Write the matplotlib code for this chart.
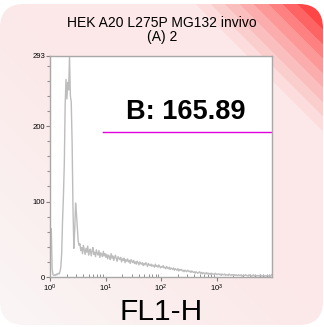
import numpy as np
import matplotlib
matplotlib.use("Agg")
import matplotlib.pyplot as plt
from matplotlib.patches import FancyBboxPatch
from matplotlib.ticker import FixedLocator, NullFormatter, LogLocator

plt.rcParams['font.family'] = ['Liberation Sans', 'DejaVu Sans']
plt.rcParams['mathtext.default'] = 'regular'

# ---------------- data ----------------
title_line1 = "HEK A20 L275P MG132 invivo"
title_line2 = "(A) 2"
x_label = "FL1-H"
gate_label = "B: 165.89"
gate_x = [9.0, 10000.0]
gate_y = 192
y_major_ticks = [0, 100, 200, 293]
x_major_ticks = [1, 10, 100, 1000]
x_tick_labels = ["$10^{0}$", "$10^{1}$", "$10^{2}$", "$10^{3}$"]
channels_per_decade = 64
counts = [
    58, 64, 10, 3,
    2, 3, 2, 4, 3, 5, 4, 7,
    13, 32, 76, 108, 150, 230, 262, 236, 258, 248, 293, 240, 232, 178, 92, 38, 62, 98, 84, 66, 48, 42,
    44, 35, 39, 31, 42, 36, 30, 38, 33, 41, 29, 35, 37, 28, 34, 39, 30, 33, 27, 36, 31, 29, 35, 26, 32, 30, 27, 34, 28, 31,
    26, 30, 24, 29, 27, 23, 31, 25, 28, 22, 26, 29, 24, 21, 27, 25, 23, 26, 20, 24, 22, 25, 19, 23, 21, 24, 20, 22, 18, 23, 21, 19,
    22, 18, 20, 17, 21, 19, 16, 20, 18, 17, 19, 15, 18, 16, 19, 17, 14, 18, 16, 15, 17, 14, 16, 15, 13, 17, 14, 15, 13, 16, 14, 12,
    14, 13, 15, 12, 13, 11, 14, 12, 11, 13, 10, 12, 11, 10, 12, 9, 11, 10, 9, 11, 8, 10, 9, 10, 8, 9, 7, 9, 8, 7, 9, 8,
    7, 8, 6, 8, 7, 6, 7, 5, 7, 6, 5, 6, 7, 5, 6, 4, 6, 5, 5, 4, 6, 4, 5, 4, 5, 3, 5, 4, 4, 3, 5, 4,
    3, 4, 4, 3, 4, 2, 4, 3, 3, 4, 2, 3, 3, 2, 4, 3, 2, 3, 3, 2, 3, 2, 3, 2, 2, 3, 2, 2, 3, 1, 2, 2,
    2, 3, 2, 2, 1, 3, 2, 2, 1, 2, 3, 1, 2, 2, 1, 2, 2, 1, 3, 2, 1, 2, 2, 1, 2, 1, 2, 2, 1, 2, 1, 3,
]

W, H = 324, 327
fig = plt.figure(figsize=(W / 100, H / 100), dpi=100)
fig.patch.set_facecolor('white')

# ---------------- decorative background ----------------
bg = fig.add_axes([0, 0, 1, 1], zorder=-5)
bg.set_xlim(0, W)
bg.set_ylim(H, 0)
bg.axis('off')
yy, xx = np.mgrid[0:H, 0:W]
t = (xx - yy).astype(float)
img = np.zeros((H, W, 3))
pale = np.array([250, 246, 246]) / 255
pink = np.array([252, 232, 232]) / 255
f = np.clip((t + 330) / 330, 0, 1)[..., None]
img[:] = pale * (1 - f) + pink * f
bands = np.array([
    (252, 220, 220), (251, 206, 206), (250, 190, 190), (251, 172, 172),
    (252, 152, 152), (254, 128, 128), (255, 100, 100), (255, 70, 70),
    (255, 42, 42), (255, 24, 24)]) / 255
k = np.floor((t - 192) / 14.5).astype(int)
mask = k >= 0
img[mask] = bands[np.clip(k[mask], 0, len(bands) - 1)]
im = bg.imshow(img, extent=(0, W, H, 0), interpolation='nearest')
clip = FancyBboxPatch((0, 4), W - 1, H - 6, boxstyle="round,pad=0,rounding_size=24",
                      transform=bg.transData, facecolor='none', edgecolor='none')
bg.add_patch(clip)
im.set_clip_path(clip)

# ---------------- main axes ----------------
ax = fig.add_axes([50 / W, 1 - 277 / H, 222 / W, 221 / H])
ax.set_facecolor('white')
n = len(counts)
centers = 10 ** ((np.arange(n) + 0.5) / channels_per_decade)
ax.plot(centers, counts, color='#bdbdbd', lw=1.0)
ax.set_xscale('log')
ax.set_xlim(1, 10 ** 4)
ax.set_ylim(0, 293)

ax.plot(gate_x, [gate_y, gate_y], color='#e000e0', lw=1.0)
ax.text(282, 219, gate_label, ha='center', va='center', fontsize=19.5,
        fontweight='bold', color='black')

for s in ax.spines.values():
    s.set_color('#a8a8a8')
    s.set_linewidth(1.0)

ax.yaxis.set_major_locator(FixedLocator(y_major_ticks))
ax.yaxis.set_minor_locator(FixedLocator([v for v in range(20, 293, 20) if v not in (100, 200)]))
ax.set_yticklabels([str(v) for v in y_major_ticks])
ax.tick_params(axis='y', which='major', direction='out', length=3, width=0.8,
               color='#808080', labelsize=5.5, pad=0.5)
ax.tick_params(axis='y', which='minor', direction='out', length=2, width=0.8, color='#909090')

ax.xaxis.set_major_locator(FixedLocator(x_major_ticks))
ax.set_xticklabels(x_tick_labels)
ax.xaxis.set_minor_locator(LogLocator(base=10, subs=np.arange(2, 10), numticks=20))
ax.xaxis.set_minor_formatter(NullFormatter())
ax.tick_params(axis='x', which='major', direction='out', length=3, width=0.8,
               color='#808080', labelsize=5.5, pad=1)
ax.tick_params(axis='x', which='minor', direction='in', length=2.5, width=0.7, color='#909090')

# ---------------- texts ----------------
fig.text(0.5, 1 - 26.7 / H, title_line1, ha='center', va='baseline', fontsize=10)
fig.text(0.5, 1 - 40.5 / H, title_line2, ha='center', va='baseline', fontsize=10)
fig.text(161 / W, 1 - 320.5 / H, x_label, ha='center', va='baseline', fontsize=21.5)

fig.savefig('out.png', dpi=100)
